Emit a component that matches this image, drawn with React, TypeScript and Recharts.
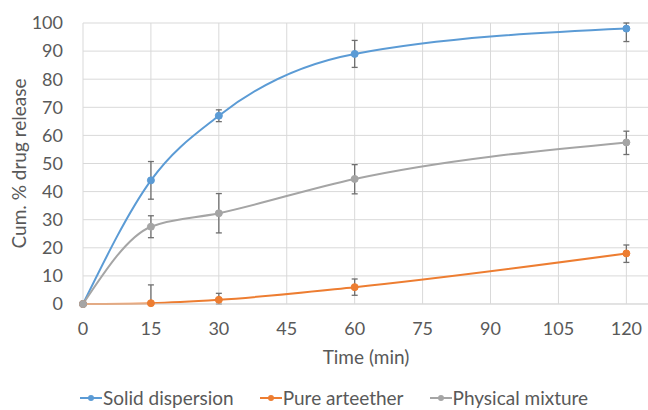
import { LineChart, Line, XAxis, YAxis, CartesianGrid, ErrorBar } from 'recharts';

const times = [0, 15, 30, 60, 120];
const solidDispersion = [0, 44, 67, 89, 98];
const pureArteether = [0, 0.3, 1.5, 6, 18];
const physicalMixture = [0, 27.5, 32.3, 44.5, 57.5];

// [down, up] error lengths
const solidErr = [null, [6.7, 6.7], [2.1, 2.1], [4.8, 4.8], [4.6, 2]];
const pureErr = [null, [0.3, 6.5], [1.5, 2.3], [2.9, 2.9], [3.2, 3]];
const physicalErr = [null, [3.9, 3.9], [7, 7], [5.3, 5.1], [4.3, 4]];

const xTicks = [0, 15, 30, 45, 60, 75, 90, 105, 120];
const yTicks = [0, 10, 20, 30, 40, 50, 60, 70, 80, 90, 100];

const series = [
  { key: 'solid', name: 'Solid dispersion', color: '#5B9BD5' },
  { key: 'pure', name: 'Pure arteether', color: '#ED7D31' },
  { key: 'physical', name: 'Physical mixture', color: '#A5A5A5' },
];

const data = times.map((t, i) => ({
  time: t,
  solid: solidDispersion[i],
  pure: pureArteether[i],
  physical: physicalMixture[i],
  solidErr: solidErr[i],
  pureErr: pureErr[i],
  physicalErr: physicalErr[i],
}));

const FONT = 'Lato, sans-serif';
const TEXT = '#595959';
const GRID = '#D9D9D9';

export default function App() {
  return (
    <div style={{ position: 'absolute', left: 0, top: 0, width: 648, height: 410, overflow: 'hidden', background: '#fff', fontFamily: FONT }}>
      <LineChart width={650} height={410} data={data} margin={{ top: 23, right: 1, bottom: 46, left: 0 }}>
        <CartesianGrid stroke={GRID} strokeWidth={1} />
        <XAxis
          type="number"
          dataKey="time"
          domain={[0, 125]}
          ticks={xTicks}
          tickLine={false}
          axisLine={{ stroke: GRID }}
          tickSize={6}
          tickMargin={12}
          height={60}
          tick={{ fill: TEXT, fontSize: 18, fontFamily: FONT }}
          label={{ value: 'Time (min)', position: 'insideBottom', offset: 0, fill: TEXT, fontSize: 19, fontFamily: FONT }}
        />
        <YAxis
          type="number"
          domain={[0, 100]}
          ticks={yTicks}
          tickLine={false}
          axisLine={false}
          tickSize={6}
          tickMargin={14}
          width={83}
          tick={{ fill: TEXT, fontSize: 18, fontFamily: FONT }}
          label={{ value: 'Cum. % drug release', angle: -90, position: 'insideLeft', offset: 19, fill: TEXT, fontSize: 19, fontFamily: FONT, style: { textAnchor: 'middle' } }}
        />
        {series.map((s) => (
          <Line
            key={s.key}
            type="monotone"
            dataKey={s.key}
            name={s.name}
            stroke={s.color}
            strokeWidth={2}
            dot={{ r: 3.5, fill: s.color, stroke: s.color, strokeWidth: 1 }}
            isAnimationActive={false}
          >
            <ErrorBar dataKey={`${s.key}Err`} direction="y" width={3} stroke="#6F6F6F" strokeWidth={1.3} />
          </Line>
        ))}
      </LineChart>
      <div style={{ position: 'absolute', left: 80, top: 387, display: 'flex', gap: 26, color: TEXT, fontSize: 19, lineHeight: '22px' }}>
        {series.map((s) => (
          <div key={s.key} style={{ display: 'flex', alignItems: 'center' }}>
            <svg width={22} height={10} style={{ marginRight: 1 }}>
              <line x1={0} y1={5} x2={22} y2={5} stroke={s.color} strokeWidth={2} />
              <circle cx={11} cy={5} r={3} fill={s.color} />
            </svg>
            <span>{s.name}</span>
          </div>
        ))}
      </div>
    </div>
  );
}
